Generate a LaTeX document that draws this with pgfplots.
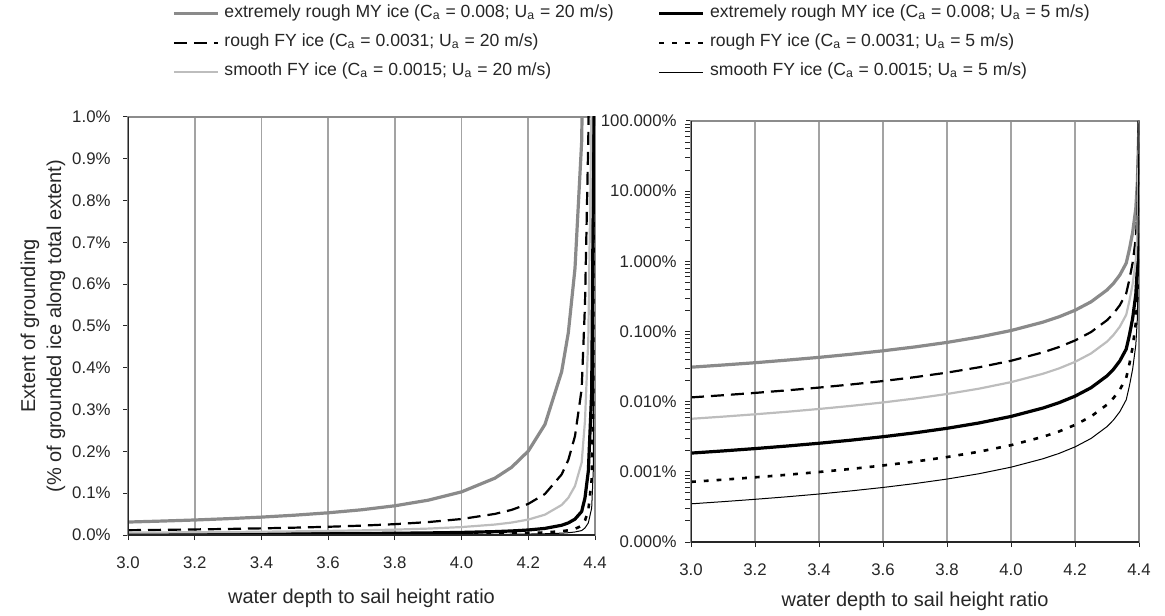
\documentclass[border=0pt]{standalone}
\usepackage{fontspec}
\setmainfont{Liberation Sans}
\usepackage{pgfplots}
\usepackage{pgfplotstable}
\pgfplotsset{compat=1.18}
\definecolor{cA}{HTML}{8A8A8A}
\definecolor{cC}{HTML}{BDBDBD}
\definecolor{gridc}{HTML}{A3A3A3}
\definecolor{framec}{HTML}{8C8C8C}
\definecolor{txt}{HTML}{262626}

\pgfplotstableread{
x A B C D E F
3.0 0.0310 0.01150 0.00570 0.001850 0.000720 0.000350
3.1 0.0333 0.01235 0.00612 0.001986 0.000773 0.000376
3.2 0.0359 0.01333 0.00661 0.002145 0.000835 0.000406
3.3 0.0391 0.01450 0.00718 0.002332 0.000908 0.000441
3.4 0.0428 0.01588 0.00787 0.002555 0.000995 0.000483
3.5 0.0474 0.01758 0.00871 0.002827 0.001100 0.000535
3.6 0.0531 0.01968 0.00975 0.003166 0.001232 0.000599
3.7 0.0603 0.02237 0.01109 0.003599 0.001401 0.000681
3.8 0.0699 0.02594 0.01286 0.004173 0.001624 0.000789
3.9 0.0833 0.03090 0.01532 0.004971 0.001935 0.000940
4.0 0.1032 0.03828 0.01898 0.006159 0.002397 0.001165
4.1 0.1360 0.05046 0.02501 0.008118 0.003159 0.001536
4.15 0.1620 0.06011 0.02979 0.009670 0.003763 0.001829
4.2 0.2008 0.07447 0.03691 0.01198 0.004663 0.002267
4.25 0.2646 0.09818 0.04866 0.01579 0.006147 0.002988
4.3 0.3906 0.1449 0.07182 0.02331 0.009072 0.004410
4.32 0.4839 0.1795 0.08898 0.02888 0.01124 0.005464
4.34 0.6377 0.2366 0.1172 0.03805 0.01481 0.00720
4.36 0.9412 0.3491 0.1731 0.05617 0.02186 0.01063
4.37 1.488 0.552 0.2736 0.0888 0.03456 0.0168
4.38 2.564 0.951 0.4714 0.1530 0.05954 0.02895
4.39 5.704 2.116 1.049 0.3404 0.1325 0.0644
4.395 13.86 5.141 2.548 0.8270 0.3218 0.1565
4.4 100 100 100 100 100 100
}\data

\begin{document}
\begin{tikzpicture}[x=1pt,y=1pt]
\path[use as bounding box] (0,0) rectangle (582.5,307.5);
\pgfplotsset{
 common/.style={
  scale only axis,
  xmin=3, xmax=4.4,
  xtick={3,3.2,3.4,3.6,3.8,4,4.2,4.4},
  xticklabels={3.0,3.2,3.4,3.6,3.8,4.0,4.2,4.4},
  xmajorgrids, grid style={gridc, line width=0.8pt},
  axis line style={framec, line width=0.9pt},
  tick align=outside, tick pos=left, major tick length=2.5pt,
  tick style={txt, line width=0.5pt},
  ticklabel style={font=\fontsize{8.4}{10}\selectfont, text=txt},
  label style={font=\fontsize{10}{13}\selectfont, text=txt},
  /pgf/number format/assume math mode=true,
  xticklabel style={yshift=-5pt},
  minor tick num=0,
  clip=true,
 },
 sA/.style={cA, line width=1.6pt},
 sB/.style={black, line width=1.1pt, dash pattern=on 6.5pt off 3.5pt},
 sC/.style={cC, line width=1.1pt},
 sD/.style={black, line width=1.6pt},
 sE/.style={black, line width=1.3pt, dash pattern=on 2.4pt off 4pt},
 sF/.style={black, line width=0.5pt},
}
\begin{axis}[common,
  at={(64pt,40pt)}, anchor=south west, width=233.5pt, height=209pt,
  ymin=0, ymax=1,
  ytick={0,0.1,0.2,0.3,0.4,0.5,0.6,0.7,0.8,0.9,1},
  yticklabels={0.0\%,0.1\%,0.2\%,0.3\%,0.4\%,0.5\%,0.6\%,0.7\%,0.8\%,0.9\%,1.0\%},
  yticklabel style={xshift=-2.7pt},
  restrict y to domain*=0:5,
  xlabel={water depth to sail height ratio},
  xlabel style={at={(axis description cs:0.5,-0.1507)}, anchor=center},
  ylabel={Extent of grounding\\(\% of grounded ice along total extent)},
  ylabel style={at={(axis description cs:-0.182,0.5)}, anchor=center, align=center},
  legend columns=2,
  legend cell align=left,
  legend image code/.code={\draw[#1] (0pt,0pt) -- (22pt,0pt);},
  legend style={at={(axis description cs:0.094,1.2696)}, anchor=north west,
    draw=none, fill=none, inner sep=0pt, text=txt,
    font=\fontsize{8.8}{10}\selectfont,
    nodes={inner sep=0pt, text height=6.4pt, text depth=2.6pt},
    row sep=5.6pt,
    /tikz/every odd column/.append style={column sep=2.5pt},
    /tikz/every even column/.append style={column sep=22pt}},
]
\addplot[sA] table[x=x,y=A]{\data};
\addlegendentry{extremely rough MY ice (C\textsubscript{a} = 0.008; U\textsubscript{a} = 20 m/s)}
\addplot[sD] table[x=x,y=D]{\data};
\addlegendentry{extremely rough MY ice (C\textsubscript{a} = 0.008; U\textsubscript{a} = 5 m/s)}
\addplot[sB] table[x=x,y=B]{\data};
\addlegendentry{rough FY ice (C\textsubscript{a} = 0.0031; U\textsubscript{a} = 20 m/s)}
\addplot[sE] table[x=x,y=E]{\data};
\addlegendentry{rough FY ice (C\textsubscript{a} = 0.0031; U\textsubscript{a} = 5 m/s)}
\addplot[sC] table[x=x,y=C]{\data};
\addlegendentry{smooth FY ice (C\textsubscript{a} = 0.0015; U\textsubscript{a} = 20 m/s)}
\addplot[sF] table[x=x,y=F]{\data};
\addlegendentry{smooth FY ice (C\textsubscript{a} = 0.0015; U\textsubscript{a} = 5 m/s)}
\draw[txt, line width=0.7pt] (rel axis cs:0,1) -- (rel axis cs:0,0) -- (rel axis cs:1,0);
\end{axis}
\begin{axis}[common,
  at={(345.5pt,36.5pt)}, anchor=south west, width=224pt, height=210.5pt,
  ymode=log, ymin=0.0001, ymax=100,
  ytick={0.0001,0.001,0.01,0.1,1,10,100},
  yticklabels={0.000\%,0.001\%,0.010\%,0.100\%,1.000\%,10.000\%,100.000\%},
  yticklabel style={xshift=-1.2pt},
  xlabel={water depth to sail height ratio},
  xlabel style={at={(axis description cs:0.5,-0.140)}, anchor=center},
]
\addplot[sA] table[x=x,y=A]{\data};
\addplot[sD] table[x=x,y=D]{\data};
\addplot[sB] table[x=x,y=B]{\data};
\addplot[sE] table[x=x,y=E]{\data};
\addplot[sC] table[x=x,y=C]{\data};
\addplot[sF] table[x=x,y=F]{\data};
\draw[txt, line width=0.7pt] (rel axis cs:0,1) -- (rel axis cs:0,0) -- (rel axis cs:1,0);
\end{axis}
\end{tikzpicture}
\end{document}
